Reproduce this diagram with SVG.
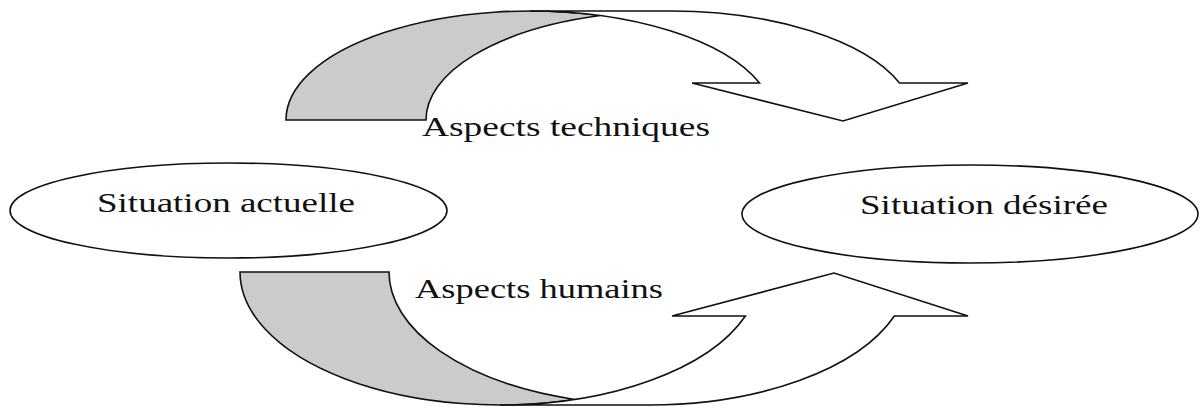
<svg xmlns="http://www.w3.org/2000/svg" width="1201" height="408" viewBox="0 0 1201 408">
  <style>
    .shape { stroke: #111; stroke-width: 1.6; stroke-linejoin: miter; }
    .back { fill: #cbcbcb; }
    .front { fill: #ffffff; }
    .node { fill: #ffffff; stroke: #111; stroke-width: 1.6; }
    .lbl { font-family: "Liberation Serif", "Times New Roman", serif; font-size: 27px; fill: #111; }
  </style>
  <rect x="0" y="0" width="1201" height="408" fill="#ffffff"/>
  <g id="connectors">
    <g id="arrow-techniques">
      <path class="shape back" d="M286,120 A244,109 0 0,1 600,15.58 A244,109 0 0,0 426,120 Z"/>
      <path class="shape front" d="M530,11 L670,11 A244,109 0 0,1 899.5,83 L968,83 L843,121 L692,83 L759.5,83 A244,109 0 0,0 530,11 Z"/>
    </g>
    <g id="arrow-humains">
      <path class="shape back" d="M240,272 A260,133 0 0,0 574.5,399.42 A260,133 0 0,1 389,272 Z"/>
      <path class="shape front" d="M500,405 L649,405 A260,133 0 0,0 894.4,316 L968,316 L834,273 L672,316 L745.4,316 A260,133 0 0,1 500,405 Z"/>
    </g>
    <text class="lbl" x="422" y="136" textLength="288" lengthAdjust="spacingAndGlyphs">Aspects techniques</text>
    <text class="lbl" x="415" y="298" textLength="248" lengthAdjust="spacingAndGlyphs">Aspects humains</text>
  </g>
  <g id="node-actuelle">
    <ellipse class="node" cx="228.5" cy="210.5" rx="218.5" ry="47.5"/>
    <text class="lbl" x="97" y="212" textLength="258" lengthAdjust="spacingAndGlyphs">Situation actuelle</text>
  </g>
  <g id="node-desiree">
    <ellipse class="node" cx="970" cy="214" rx="228" ry="49"/>
    <text class="lbl" x="860" y="214" textLength="248" lengthAdjust="spacingAndGlyphs">Situation désirée</text>
  </g>
</svg>
